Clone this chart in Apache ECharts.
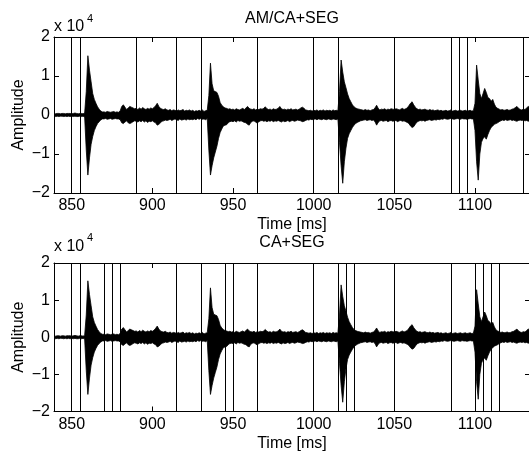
<!DOCTYPE html>
<html>
<head>
<meta charset="utf-8">
<script src="https://cdn.jsdelivr.net/npm/echarts@6/dist/echarts.min.js"></script>
<style>
html,body{margin:0;padding:0;background:#fff;}
#c{width:529px;height:452px;}
</style>
</head>
<body>
<div id="c"></div>
<script>
// Waveform envelope (x 10^4), one value per ms starting at T0
const T0 = 839;
const DT = 1;
const upper = [
 .04,.03,.04,.04,.03,.04,.04,.03,.04,.04,
 .04,.03,.04,.05,.04,.03,.04,.04,.03,.05,
 .6,1.52,1.15,.85,.55,.4,.3,.21,.15,.1,
 .08,.08,.07,.09,.08,.07,.08,.09,.07,.08,
 .07,.1,.22,.26,.2,.14,.18,.22,.2,.18,
 .16,.17,.14,.18,.15,.19,.16,.14,.17,.15,
 .18,.16,.19,.24,.3,.22,.17,.15,.14,.16,
 .13,.12,.14,.11,.13,.12,.1,.13,.11,.12,
 .14,.1,.12,.11,.13,.1,.12,.09,.11,.1,
 .12,.1,.13,.09,.11,.12,.5,1.33,.8,.62,
 .6,.58,.48,.32,.25,.21,.18,.17,.15,.16,
 .14,.15,.13,.16,.14,.13,.15,.17,.14,.18,
 .22,.17,.15,.14,.16,.13,.15,.14,.16,.15,
 .17,.21,.16,.14,.15,.13,.16,.14,.15,.17,
 .22,.16,.14,.15,.13,.15,.14,.16,.13,.14,
 .15,.13,.15,.18,.2,.17,.13,.12,.11,.12,
 .1,.12,.11,.13,.1,.12,.11,.13,.1,.12,
 .11,.12,.1,.13,.11,.12,.11,.6,1.41,1.1,
 .85,.7,.54,.42,.34,.26,.21,.18,.16,.15,
 .14,.13,.12,.14,.12,.13,.11,.13,.14,.18,
 .25,.17,.13,.15,.14,.16,.13,.15,.14,.16,
 .15,.14,.16,.15,.13,.15,.17,.14,.16,.18,
 .24,.3,.34,.26,.2,.16,.14,.15,.13,.14,
 .15,.13,.12,.14,.12,.13,.11,.12,.13,.11,
 .12,.1,.11,.12,.1,.11,.13,.1,.11,.12,
 .1,.11,.12,.1,.11,.12,.1,.11,.12,.1,
 .11,.3,1.28,.9,.55,.42,.55,.68,.58,.45,
 .42,.35,.4,.28,.2,.17,.15,.13,.14,.12,
 .13,.14,.12,.13,.15,.16,.19,.22,.17,.14,
 .13,.15,.14,.18,.22,.2
];
const lower = [
 -.03,-.04,-.03,-.04,-.03,-.03,-.04,-.03,-.04,-.03,
 -.04,-.03,-.04,-.03,-.04,-.04,-.03,-.04,-.03,-.05,
 -.9,-1.54,-1.1,-.75,-.55,-.4,-.3,-.22,-.17,-.13,
 -.1,-.1,-.09,-.11,-.1,-.09,-.11,-.1,-.09,-.1,
 -.1,-.12,-.2,-.22,-.18,-.15,-.2,-.22,-.2,-.17,
 -.15,-.16,-.18,-.15,-.17,-.14,-.18,-.15,-.19,-.16,
 -.17,-.15,-.18,-.2,-.26,-.24,-.2,-.16,-.15,-.13,
 -.14,-.13,-.11,-.14,-.12,-.1,-.12,-.14,-.1,-.13,
 -.12,-.11,-.13,-.1,-.12,-.11,-.12,-.1,-.12,-.09,
 -.11,-.09,-.11,-.1,-.12,-.09,-.9,-1.54,-1.3,-1.1,
 -.95,-.8,-.6,-.45,-.36,-.28,-.26,-.25,-.2,-.17,
 -.16,-.17,-.15,-.18,-.14,-.16,-.15,-.17,-.19,-.2,
 -.24,-.26,-.19,-.16,-.15,-.18,-.21,-.17,-.15,-.14,
 -.16,-.15,-.17,-.15,-.16,-.14,-.17,-.15,-.16,-.14,
 -.16,-.18,-.15,-.17,-.16,-.14,-.17,-.15,-.14,-.16,
 -.15,-.13,-.14,-.15,-.17,-.16,-.14,-.12,-.13,-.11,
 -.12,-.11,-.1,-.12,-.1,-.11,-.12,-.1,-.11,-.12,
 -.1,-.11,-.12,-.1,-.11,-.12,-.1,-.7,-1.3,-1.75,
 -1.2,-.85,-.6,-.48,-.4,-.32,-.26,-.22,-.19,-.17,
 -.15,-.14,-.13,-.12,-.14,-.13,-.12,-.14,-.13,-.17,
 -.26,-.19,-.15,-.14,-.16,-.15,-.14,-.17,-.15,-.14,
 -.16,-.15,-.14,-.17,-.15,-.14,-.16,-.15,-.17,-.19,
 -.22,-.28,-.32,-.3,-.24,-.18,-.16,-.14,-.15,-.14,
 -.16,-.14,-.13,-.12,-.14,-.13,-.12,-.13,-.11,-.12,
 -.1,-.11,-.09,-.1,-.11,-.1,-.09,-.1,-.11,-.1,
 -.09,-.1,-.11,-.09,-.1,-.1,-.11,-.1,-.09,-.1,
 -.1,-.4,-1.2,-1.67,-1.0,-.7,-.6,-.56,-.62,-.5,
 -.4,-.32,-.28,-.24,-.22,-.2,-.17,-.15,-.13,-.14,
 -.12,-.14,-.13,-.12,-.14,-.13,-.15,-.16,-.14,-.13,
 -.14,-.13,-.15,-.14,-.16,-.15
];
// Segmentation boundaries (ms)
const segTop = [850, 855, 890, 915, 930, 965, 1000, 1015, 1050, 1085, 1090, 1095, 1130];
const segBottom = [850, 855, 870, 875, 880, 915, 930, 945, 950, 965, 1000, 1015, 1020, 1025, 1050, 1085, 1100, 1105, 1110, 1115];
// Axes
const xTicks = [850, 900, 950, 1000, 1050, 1100];
const xMin = 839, xMax = 1134.1;
const yMin = -2, yMax = 2, yStep = 1;
const titles = ['AM/CA+SEG', 'CA+SEG'];

const FONT = 'Liberation Sans, Arial, Helvetica, sans-serif';

const envRows = upper.map((u, i) => [T0 + i * DT, u, lower[i]]);

const grids = [
  {left: 54, top: 37, width: 476, height: 156, outerBoundsMode: 'none'},
  {left: 54, top: 263, width: 476, height: 148.5, outerBoundsMode: 'none'}
];

// One filled polygon per plot: upper envelope left->right, lower envelope right->left
function renderEnv(params, api) {
  if (params.dataIndex !== 0) return null;
  const top = [], bot = [];
  envRows.forEach(r => {
    top.push(api.coord([r[0], r[1]]));
    bot.push(api.coord([r[0], r[2]]));
  });
  const pts = top.concat(bot.reverse());
  return {
    type: 'polygon',
    shape: {points: pts},
    style: {fill: '#000', stroke: '#000', lineWidth: 0.8}
  };
}

const xAxes = [], yAxes = [], series = [];
[segTop, segBottom].forEach((seg, g) => {
  const lineStyle = {color: '#000', width: 1};
  xAxes.push({
    gridIndex: g, type: 'value', min: xMin, max: xMax, position: 'bottom',
    axisLine: {show: true, onZero: false, lineStyle},
    axisTick: {show: true, inside: true, length: 5, customValues: xTicks, lineStyle},
    axisLabel: {show: true, customValues: xTicks, color: '#000', fontSize: 16, fontFamily: FONT, margin: 5,
      formatter: v => String(v)},
    splitLine: {show: false},
    name: 'Time [ms]', nameLocation: 'middle', nameGap: 24, nameMoveOverlap: false,
    nameTextStyle: {color: '#000', fontSize: 16, fontFamily: FONT}
  });
  xAxes.push({
    gridIndex: g, type: 'value', min: xMin, max: xMax, position: 'top',
    axisLine: {show: true, onZero: false, lineStyle},
    axisTick: {show: true, inside: true, length: 5, customValues: xTicks, lineStyle},
    axisLabel: {show: false}, splitLine: {show: false}
  });
  yAxes.push({
    gridIndex: g, type: 'value', min: yMin, max: yMax, interval: yStep, position: 'left',
    axisLine: {show: true, onZero: false, lineStyle},
    axisTick: {show: true, inside: true, length: 5, lineStyle},
    axisLabel: {color: '#000', fontSize: 16, fontFamily: FONT, margin: 4,
      formatter: v => String(v).replace('-', '\u2212')},
    splitLine: {show: false},
    name: 'Amplitude', nameLocation: 'middle', nameGap: 27, nameRotate: 90, nameMoveOverlap: false,
    nameTextStyle: {color: '#000', fontSize: 16, fontFamily: FONT}
  });
  yAxes.push({
    gridIndex: g, type: 'value', min: yMin, max: yMax, interval: yStep, position: 'right',
    axisLine: {show: true, onZero: false, lineStyle},
    axisTick: {show: true, inside: true, length: 5, lineStyle},
    axisLabel: {show: false}, splitLine: {show: false}
  });
  series.push({
    type: 'custom', xAxisIndex: g * 2, yAxisIndex: g * 2,
    data: envRows, encode: {x: 0, y: [1, 2]},
    renderItem: renderEnv, clip: true, silent: true, animation: false,
    markLine: {
      silent: true, symbol: ['none', 'none'], animation: false,
      label: {show: false},
      lineStyle: {color: '#000', width: 1, type: 'solid'},
      emphasis: {disabled: true},
      data: seg.map(v => ({xAxis: v}))
    }
  });
});

const txt = (text, x, y, size, align) => ({
  type: 'text', x, y, silent: true,
  style: {text, fill: '#000', font: size + 'px ' + FONT, textAlign: align, textVerticalAlign: 'middle'}
});

const chart = echarts.init(document.getElementById('c'), null, {renderer: 'canvas'});
chart.setOption({
  animation: false,
  backgroundColor: '#fff',
  grid: grids,
  xAxis: xAxes,
  yAxis: yAxes,
  series,
  graphic: [
    txt(titles[0], 292, 19, 16, 'center'),
    txt(titles[1], 292, 242.5, 16, 'center'),
    txt('x 10', 54, 27, 16, 'left'),
    txt('4', 87, 19, 11, 'left'),
    txt('x 10', 54, 246.5, 16, 'left'),
    txt('4', 87, 238, 11, 'left')
  ]
});
</script>
</body>
</html>
